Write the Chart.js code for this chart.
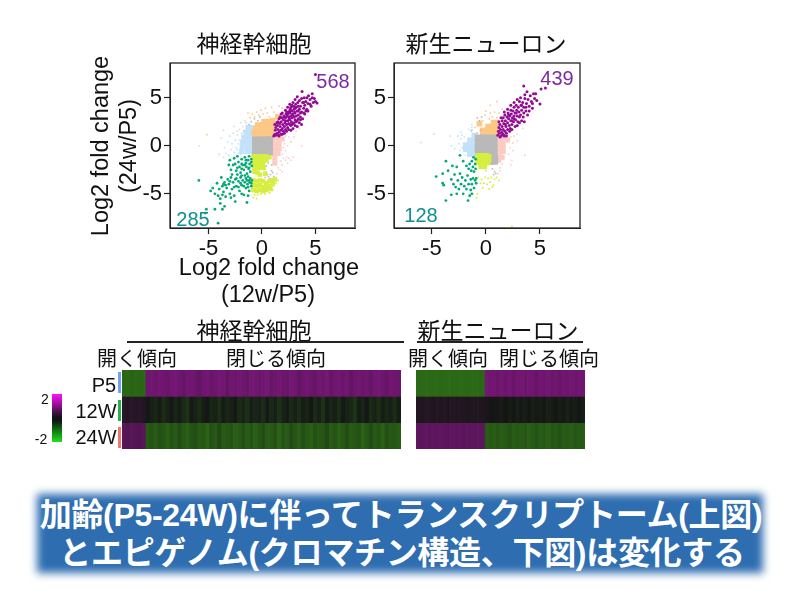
<!DOCTYPE html>
<html lang="ja">
<head>
<meta charset="utf-8">
<title>加齢に伴う変化</title>
<script src="https://cdn.jsdelivr.net/npm/chart.js@4"></script>
<style>
  html, body { margin: 0; padding: 0; background: #fff; }
  #page { position: relative; width: 800px; height: 614px; overflow: hidden; font-family: "Noto Sans CJK JP", sans-serif; color: #111; }
  #page canvas { position: absolute; }
  .lbl { position: absolute; transform: translate(-50%, -50%); white-space: nowrap; line-height: 1; }
  .latin { font-family: "Liberation Sans", Arial, sans-serif; }
  .rot { transform: translate(-50%, -50%) rotate(-90deg); }
  .rule { position: absolute; height: 1.5px; background: #222; }
  .tag { position: absolute; width: 2.5px; }
  #bannerBg { position: absolute; left: 37px; top: 494px; width: 726px; height: 79px; background: #2d6db0; filter: blur(4px); }
  .bannerTxt { color: #fff; font-family: "Liberation Sans", "Noto Sans CJK JP", sans-serif; font-weight: 700; font-size: 32px; letter-spacing: -0.3px; }
  #colorbar { position: absolute; left: 52px; top: 394px; width: 10px; height: 48px;
    background: linear-gradient(#ff10ff, #a010a0 20%, #141414 48%, #141414 56%, #108a10 80%, #20e020); }
</style>
</head>
<body>
<div id="page">
  <canvas id="scatterNsc"></canvas>
  <canvas id="scatterNeuron"></canvas>
  <canvas id="heatNsc"></canvas>
  <canvas id="heatNeuron"></canvas>

  <div class="lbl" style="left:254px;top:42px;font-size:23px">神経幹細胞</div>
  <div class="lbl" style="left:486px;top:42px;font-size:23px">新生ニューロン</div>

  <div class="lbl latin rot" style="left:101px;top:146px;font-size:23.5px">Log2 fold change</div>
  <div class="lbl latin rot" style="left:129px;top:146px;font-size:23.5px">(24w/P5)</div>
  <div class="lbl latin" style="left:269px;top:268px;font-size:23.5px">Log2 fold change</div>
  <div class="lbl latin" style="left:268px;top:295px;font-size:23.5px">(12w/P5)</div>

  <div class="lbl latin" style="left:333px;top:81px;font-size:20px;color:#7d2a9e">568</div>
  <div class="lbl latin" style="left:193px;top:219px;font-size:20px;color:#0f8f8f">285</div>
  <div class="lbl latin" style="left:557px;top:78px;font-size:20px;color:#7d2a9e">439</div>
  <div class="lbl latin" style="left:421px;top:215px;font-size:20px;color:#0f8f8f">128</div>

  <div class="lbl" style="left:254px;top:329px;font-size:23px">神経幹細胞</div>
  <div class="rule" style="left:127px;top:341px;width:277px"></div>
  <div class="lbl" style="left:498px;top:329px;font-size:23px">新生ニューロン</div>
  <div class="rule" style="left:417px;top:341px;width:166px"></div>

  <div class="lbl" style="left:137px;top:358px;font-size:20px">開く傾向</div>
  <div class="lbl" style="left:276px;top:358px;font-size:20px">閉じる傾向</div>
  <div class="lbl" style="left:448px;top:358px;font-size:20px">開く傾向</div>
  <div class="lbl" style="left:549px;top:358px;font-size:20px">閉じる傾向</div>

  <div class="lbl latin" style="left:104px;top:385px;font-size:20px">P5</div>
  <div class="lbl latin" style="left:96px;top:411px;font-size:20px">12W</div>
  <div class="lbl latin" style="left:96px;top:437px;font-size:20px">24W</div>
  <div class="tag" style="left:118px;top:372px;height:21px;background:#6fa2f5"></div>
  <div class="tag" style="left:118px;top:400px;height:21px;background:#22b14c"></div>
  <div class="tag" style="left:118px;top:427px;height:21px;background:#f0766a"></div>

  <div id="colorbar"></div>
  <div class="lbl latin" style="left:45px;top:399px;font-size:14px">2</div>
  <div class="lbl latin" style="left:41px;top:439px;font-size:14px">-2</div>

  <div id="bannerBg"></div>
  <div class="lbl bannerTxt" style="left:401px;top:515px">加齢(P5-24W)に伴ってトランスクリプトーム(上図)</div>
  <div class="lbl bannerTxt" style="left:402px;top:553px">とエピゲノム(クロマチン構造、下図)は変化する</div>
</div>

<script>
// axis ticks
const tickValues = [-5, 0, 5];

// 神経幹細胞 scatter as [x, y]
const nscPurple = [[1.2,1.2],[1.25,1.6],[1.3,1.9],[1.4,1.3],[1.45,2.1],[1.5,1.7],[1.55,1.1],[1.6,1.4],[1.65,2.3],[1.7,2.0],[1.75,1.6],[1.8,1.2],[1.8,2.5],[1.85,2.9],[1.9,1.8],[1.95,2.2],[2.0,1.5],[2.0,2.7],[2.05,3.1],[2.1,2.0],[2.15,2.4],[2.2,1.7],[2.2,2.9],[2.25,3.3],[2.3,2.2],[2.35,3.1],[2.4,2.6],[2.4,1.9],[2.45,3.5],[2.5,3.0],[2.5,2.3],[2.55,2.8],[2.6,3.4],[2.6,2.7],[2.65,3.8],[2.7,2.1],[2.7,3.1],[2.75,2.5],[2.8,3.6],[2.8,2.9],[2.85,3.3],[2.9,3.2],[2.9,2.3],[2.95,4.1],[3.0,3.8],[3.0,3.0],[3.05,3.5],[3.1,2.7],[3.1,3.4],[3.15,4.3],[3.2,4.0],[3.2,3.1],[3.3,2.6],[3.3,3.6],[3.3,5.1],[3.35,4.5],[3.4,3.2],[3.5,3.8],[3.5,4.7],[3.6,3.0],[3.6,4.1],[3.7,3.5],[3.75,5.65],[3.8,4.5],[3.8,2.8],[3.9,3.9],[3.95,5.0],[4.0,4.2],[4.0,3.3],[4.1,4.6],[4.2,3.8],[4.3,4.4],[4.35,5.2],[4.5,4.8],[4.6,4.1],[4.7,5.4],[4.7,5.0],[4.8,4.5],[4.9,4.9],[5.0,4.6],[5.15,4.45],[5.0,7.4],
  [1.1,1.0],[1.3,1.1],[1.6,1.0],[1.9,1.2],[2.1,1.3],[2.3,1.5],[2.5,1.7],[2.7,1.6],[2.9,1.8],[3.1,2.1],[3.3,2.0],[3.5,2.4],[3.7,2.2],[1.5,2.5],[1.7,3.0],[1.9,3.4],[2.2,3.7],[2.4,4.0],[2.6,4.3],[2.9,4.5],[3.1,4.8],[2.7,4.0],[3.4,4.1],[2.2,2.6],[2.4,3.3],[2.6,2.2],[2.8,2.2],[3.0,2.4],[3.2,2.5],[3.4,2.8],[3.6,2.7],[1.6,2.8],[1.4,2.4],[1.2,2.2],[1.8,3.3],[2.1,3.0],[2.3,3.5],[2.6,3.6],[2.8,4.2],[3.1,3.9],[3.4,3.6],[3.6,3.4],[3.9,3.4],[4.1,3.6],[4.3,3.6],[4.5,4.3],[4.2,5.0],[3.9,4.5],[3.7,4.9]];
const nscGreen = [[-3.1,-2.0],[-3.0,-1.5],[-2.9,-2.5],[-2.6,-1.3],[-2.5,-1.9],[-2.4,-2.6],[-2.3,-1.1],[-2.2,-1.7],[-2.1,-2.2],[-2.0,-2.8],[-1.9,-1.4],[-1.8,-2.0],[-1.7,-2.5],[-1.6,-1.2],[-1.5,-1.8],[-1.45,-2.2],[-1.4,-2.9],[-1.3,-1.5],[-1.25,-2.4],[-1.2,-1.1],[-1.15,-1.9],[-1.1,-2.7],[-1.0,-1.4],[-0.95,-2.1],[-1.0,-1.7],[-1.5,-1.5],[-1.9,-1.9],[-5.9,-3.6],[-4.8,-4.7],[-4.6,-4.4],[-4.4,-5.0],[-4.2,-3.9],[-4.1,-5.2],[-4.0,-4.5],[-3.9,-5.5],[-3.8,-3.3],[-3.7,-4.2],[-3.7,-5.1],[-3.6,-4.8],[-3.5,-3.8],[-3.4,-5.3],[-3.3,-4.4],[-3.2,-3.5],[-3.1,-4.0],[-3.0,-5.0],[-2.9,-3.3],[-2.8,-4.5],[-2.7,-3.8],[-2.6,-5.2],[-2.5,-3.5],[-2.4,-4.2],[-2.3,-3.0],[-2.2,-3.7],[-2.1,-4.7],[-2.0,-3.3],[-1.9,-4.1],[-1.8,-3.6],[-1.7,-5.1],[-1.6,-3.1],[-1.5,-4.4],[-1.4,-3.6],[-1.35,-4.0],[-1.3,-3.2],[-1.2,-4.7],[-1.15,-3.8],[-1.1,-3.4],[-1.0,-4.2],[-0.95,-3.6],[-1.0,-3.9],[-4.1,-8.05],[-5.2,-6.6],[-5.3,-7.0],[-3.5,-6.3],[-3.7,-6.6],[-3.9,-6.0],[-2.5,-5.8],[-1.4,-5.9],[-4.4,-6.6],
  [-2.7,-2.0],[-2.3,-2.3],[-1.9,-2.4],[-1.6,-2.0],[-1.2,-2.3],[-2.8,-3.0],[-2.4,-3.4],[-2.0,-3.9],[-1.7,-4.2],[-1.5,-3.4],[-1.2,-3.6],[-1.3,-4.3],[-1.9,-3.1],[-1.6,-3.8],[-2.6,-4.3],[-3.0,-3.7],[-3.4,-4.1],[-2.2,-4.3],[-3.6,-4.0],[-2.9,-5.4],[-1.9,-5.0],[-1.3,-5.2]];
const nscLime = [[-0.8,-1.1],[-0.5,-1.1],[-0.2,-1.1],[0.1,-1.1],[0.4,-1.1],[0.7,-1.2],[-0.8,-1.5],[-0.5,-1.5],[-0.2,-1.5],[0.1,-1.5],[0.4,-1.5],[-0.8,-1.9],[-0.5,-1.9],[-0.2,-1.9],[0.1,-1.9],[-0.7,-2.3],[-0.4,-2.3],[-0.1,-2.3],[0.15,-2.3],[-0.7,-2.7],[-0.4,-2.8],[-0.2,-3.0],[0.3,-2.9],[-0.8,-3.6],[-0.5,-3.7],[-0.2,-3.6],[0.1,-3.7],[0.4,-3.9],[0.7,-3.7],[1.0,-3.6],[1.2,-3.5],[-0.8,-4.1],[-0.5,-4.2],[-0.2,-4.1],[0.1,-4.3],[0.4,-4.2],[0.7,-4.2],[1.0,-4.0],[-0.8,-4.6],[-0.5,-4.7],[-0.2,-4.6],[0.1,-4.7],[0.4,-4.6],[0.8,-4.5],[-0.7,-5.1],[-0.4,-5.1],[-0.1,-5.0],[-0.8,-5.4],[0.3,-5.0],[1.3,-3.9],[1.0,-4.6],[0.7,-4.9],[1.5,-3.6],[-0.5,-5.5]];
const nscGrey = [[-0.6,0.6],[-0.1,0.6],[0.4,0.6],[0.7,0.6],[-0.6,0.1],[-0.1,0.1],[0.4,0.1],[0.7,0.1],[-0.6,-0.4],[-0.1,-0.4],[0.4,-0.4],[0.7,-0.4],[-0.6,-0.65],[-0.1,-0.65],[0.4,-0.65],[0.7,-0.65],[-1.0,2.5],[-0.7,2.8],[-0.4,2.6],[-1.2,2.2],[-0.2,3.0],[0.2,-1.9],[0.4,-2.1],[0.6,-1.8],[0.9,-2.0],[0.3,-3.3],[0.6,-3.2],[0.8,-3.0],[1.0,-2.8],[1.1,-3.2],[0.9,-2.6],[0.7,-3.4],[0.5,-3.0]];
const nscOrange = [[-0.7,1.1],[-0.3,1.1],[0.1,1.1],[0.5,1.1],[0.8,1.1],[-0.7,1.45],[-0.3,1.45],[0.1,1.45],[0.5,1.45],[0.9,1.5],[-0.55,1.8],[-0.2,1.8],[0.2,1.8],[0.6,1.8],[1.0,1.9],[-0.4,2.15],[0,2.15],[0.4,2.15],[0.8,2.2],[1.2,2.3],[0.2,2.5],[0.6,2.5],[1.0,2.6],[1.5,3.0],[-1.3,3.4],[-1.1,2.9],[-0.9,3.3],[-0.7,3.0],[-0.5,3.5],[-0.3,3.2],[-0.1,3.7],[0.1,3.3],[0.3,3.9],[0.5,3.4],[0.7,3.0],[0.9,4.0],[1.1,3.5],[1.3,3.1],[1.6,4.1],[1.9,3.9],[-1.5,2.4],[-1.7,1.5],[-2.3,1.5],[-5.15,1.15]];
const nscBlue = [[-1.3,1.9],[-1.0,1.9],[-1.5,1.4],[-1.1,1.4],[-1.7,0.9],[-1.35,0.9],[-1.0,0.9],[-1.8,0.4],[-1.4,0.4],[-1.0,0.4],[-1.85,-0.1],[-1.4,-0.1],[-1.0,-0.1],[-1.9,-0.6],[-1.4,-0.6],[-1.0,-0.6],[-5.85,0],[-4.0,-0.9],[-3.8,0.8],[-3.6,1.6],[-3.5,-0.2],[-3.4,-0.8],[-3.2,0.4],[-3.1,-1.0],[-3.0,1.0],[-2.9,-0.4],[-2.8,0.2],[-2.7,1.3],[-2.6,-0.7],[-2.5,0.6],[-2.4,-0.2],[-2.3,1.1],[-2.2,0.2],[-2.2,-0.8],[-2.1,1.7],[-3.6,-1.2],[-2.6,2.0],[-2.0,2.4],[-1.6,2.6],[-1.9,1.3],[-2.1,0.6],[-2.3,-0.4],[-1.8,2.0],[-2.0,-0.9]];
const nscPink = [[1.2,0.7],[1.6,0.7],[1.9,0.7],[1.2,0.2],[1.6,0.2],[1.2,-0.3],[1.6,-0.3],[1.2,-0.8],[1.5,-0.8],[1.2,-1.3],[1.2,-1.8],[2.2,1.0],[2.5,0.9],[2.7,0.4],[2.1,0.2],[2.4,0.0],[2.2,-0.5],[3.7,0.0],[3.0,0.9],[2.0,-1.3],[2.3,-1.2],[2.5,-1.3],[2.7,-1.5],[2.9,-1.2],[2.4,-1.8],[2.2,-1.5],[1.9,-2.0],[1.7,-2.5],[1.9,-2.7],[1.5,-2.3],[1.4,-2.9],[3.2,1.5],[3.5,1.8],[2.9,1.7],[1.9,-0.9],[2.0,-0.2],[1.8,-1.6]];

// 新生ニューロン scatter
const neuPurple = [[1.1,1.1],[1.15,1.5],[1.2,1.9],[1.25,1.3],[1.3,2.2],[1.35,1.7],[1.4,1.0],[1.45,1.4],[1.5,2.6],[1.5,2.0],[1.55,1.2],[1.6,2.9],[1.6,1.7],[1.65,2.3],[1.7,1.0],[1.75,1.5],[1.75,3.2],[1.8,2.6],[1.85,2.0],[1.9,1.3],[1.95,3.0],[2.0,2.4],[2.0,1.7],[2.05,3.4],[2.1,2.8],[2.15,2.1],[2.2,3.1],[2.25,1.8],[2.3,3.7],[2.3,2.6],[2.35,3.3],[2.4,2.2],[2.45,2.9],[2.5,3.6],[2.55,2.5],[2.6,4.0],[2.6,3.1],[2.7,3.4],[2.75,2.7],[2.8,4.2],[2.85,3.7],[2.9,3.1],[2.95,2.5],[3.0,4.0],[3.05,3.5],[3.1,4.6],[3.2,3.2],[3.25,4.2],[3.3,3.7],[3.4,4.5],[3.45,3.0],[3.5,4.0],[3.55,2.5],[3.6,4.9],[3.7,3.6],[3.75,4.4],[3.8,5.6],[3.85,3.2],[3.9,4.8],[4.0,4.1],[4.1,5.2],[4.2,4.6],[4.3,3.9],[4.4,5.4],[4.5,4.9],[4.6,5.4],[3.5,6.2],[5.1,5.9],[5.0,4.35],[5.5,6.0],
  [1.3,0.9],[1.6,1.2],[1.9,1.0],[2.2,1.5],[2.4,1.7],[2.7,2.0],[2.9,2.1],[3.1,2.4],[3.3,2.6],[1.2,2.5],[1.4,2.9],[1.7,3.5],[2.0,3.8],[2.3,4.2],[2.6,4.5],[2.9,4.8],[3.2,5.0],[1.8,2.2],[2.1,3.2],[2.4,2.6],[2.6,2.8],[2.8,3.4],[3.1,3.0],[3.3,4.2],[3.5,3.4],[3.7,4.0],[4.0,3.6],[4.3,4.4],[4.7,4.7],[3.6,5.3]];
const neuGreen = [[-4.6,-3.2],[-4.0,-2.9],[-4.0,-3.9],[-3.9,-4.1],[-3.7,-5.7],[-3.7,-1.6],[-3.5,-2.6],[-3.2,-5.1],[-3.2,-3.5],[-3.1,-2.1],[-3.0,-4.0],[-2.9,-3.0],[-2.8,-4.3],[-2.7,-2.2],[-2.6,-3.6],[-2.5,-4.5],[-2.4,-1.0],[-2.4,-2.9],[-2.3,-4.0],[-2.2,-3.3],[-2.1,-1.6],[-2.1,-5.0],[-2.0,-4.2],[-1.9,-3.6],[-1.8,-2.1],[-1.8,-4.5],[-1.7,-3.1],[-1.65,-5.7],[-1.6,-4.0],[-1.6,-2.4],[-1.5,-5.2],[-1.5,-1.9],[-1.4,-3.5],[-1.4,-4.6],[-1.35,-2.6],[-1.3,-1.6],[-1.3,-4.0],[-1.2,-2.2],[-1.2,-3.4],[-1.15,-1.2],[-1.1,-4.4],[-1.1,-2.7],[-1.0,-1.9],[-1.0,-3.6],[-0.95,-1.4],[-0.95,-2.4],[-0.9,-3.9],[-0.9,-3.4],[-1.3,-5.0],[-2.7,-5.0]];
const neuLime = [[-0.8,-1.0],[-0.5,-1.0],[-0.2,-1.0],[0.1,-1.0],[0.3,-1.1],[-0.8,-1.4],[-0.5,-1.4],[-0.2,-1.4],[0.1,-1.4],[0.3,-1.5],[-0.7,-1.8],[-0.4,-1.8],[-0.1,-1.8],[0.2,-1.8],[-0.5,-2.2],[-0.1,-2.2],[-0.7,-3.3],[-0.4,-3.5],[-0.1,-3.3],[0.2,-3.4],[0.5,-3.3],[0.8,-3.5],[1.0,-3.3],[-0.5,-3.9],[-0.2,-3.9],[0.1,-4.0],[0.4,-3.8],[0.7,-4.1],[1.2,-3.6],[-0.3,-4.4],[0.3,-4.5],[0.6,-4.3],[-0.8,-5.0],[-0.85,-5.4],[0.0,-2.6],[2.4,-8.4]];
const neuGrey = [[-0.7,0.8],[-0.2,0.8],[0.3,0.8],[0.75,0.8],[-0.7,0.3],[-0.2,0.3],[0.3,0.3],[0.75,0.3],[-0.7,-0.2],[-0.2,-0.2],[0.3,-0.2],[0.75,-0.2],[-0.7,-0.7],[-0.2,-0.7],[0.3,-0.7],[0.75,-0.7],[0.1,-1.3],[0.5,-1.3],[0.8,-1.3],[0.5,-1.6],[0.8,-1.6],[-0.8,1.3],[-0.5,1.6],[-0.8,2.9],[-0.6,2.6],[-0.4,3.0],[0.6,-2.4],[0.8,-2.7],[0.9,-2.9],[0.7,-3.0],[-1.3,1.6]];
const neuOrange = [[-0.3,1.2],[0.1,1.2],[0.5,1.2],[0.9,1.2],[-0.3,1.6],[0.1,1.6],[0.5,1.6],[0.9,1.6],[0.2,2.0],[0.6,2.0],[1.0,2.0],[0.7,2.4],[1.0,2.4],[-0.6,2.3],[-0.3,2.6],[-0.1,3.2],[0.0,3.6],[0.3,2.8],[0.4,3.4],[0.6,3.0],[0.8,3.5],[1.0,2.9],[1.2,3.4],[1.5,3.8],[1.0,4.6],[0.4,4.2],[-4.8,1.2],[-1.0,1.9]];
const neuBlue = [[-1.1,1.1],[-1.1,0.6],[-1.5,0.6],[-1.1,0.1],[-1.5,0.1],[-1.9,0.1],[-1.1,-0.4],[-1.5,-0.4],[-1.9,-0.4],[-1.1,-0.9],[-1.5,-0.9],[-6.0,0.35],[-3.2,0.0],[-2.9,-0.3],[-2.2,1.1],[-2.5,0.2],[-2.4,-0.5],[-2.2,-0.2],[-2.6,1.0],[-2.3,0.7],[-2.0,0.9],[-1.4,1.5],[-1.3,1.9],[-1.6,1.7],[-1.3,2.2],[-2.3,1.4],[-3.3,1.0],[-1.9,-1.0]];
const neuPink = [[1.2,0.9],[1.6,0.9],[1.2,0.4],[1.6,0.4],[2.0,0.6],[1.2,-0.1],[1.6,-0.1],[1.2,-0.6],[1.6,-0.6],[1.2,-1.1],[1.5,-1.2],[1.2,-1.5],[2.3,0.9],[2.5,0.3],[2.6,1.0],[2.9,1.2],[2.2,-0.2],[2.5,-0.5],[2.1,-0.9],[3.6,-1.0],[2.4,-1.5],[2.3,-2.0],[1.3,-2.3],[1.3,-2.6],[1.1,-2.9],[1.5,-1.9],[3.4,1.8],[2.9,0.5]];

// heatmap values, one entry per column
const nscP5 = [-0.75,-0.78,-0.72,-0.76,-0.74,-0.77, 0.82,0.86,0.8,0.88,0.84,0.78,0.86,0.9,0.82,0.76,0.85,0.87,0.8,0.7,0.84,0.88,0.78,0.83,0.9,0.86,0.72,0.84,0.8,0.87,0.82,0.76,0.88,0.85,0.79,0.84,0.9,0.73,0.82,0.86,0.8,0.77,0.88,0.84,0.7,0.83,0.87,0.8,0.76,0.86,0.82,0.9,0.74,0.84,0.88,0.8,0.85,0.72,0.83,0.87,0.79,0.86,0.74,0.85,0.9,0.82,0.76,0.86,0.83,0.8];
const nsc12 = [0.2,0.12,0.22,0.16,0.2,0.14, -0.02,-0.1,-0.18,-0.06,-0.22,-0.12,-0.04,-0.16,-0.08,-0.2,-0.28,-0.05,-0.14,-0.22,-0.08,-0.02,-0.18,-0.12,-0.25,-0.06,-0.16,-0.1,-0.03,-0.2,-0.13,-0.24,-0.07,-0.15,-0.1,-0.21,-0.04,-0.17,-0.09,-0.26,-0.12,-0.05,-0.19,-0.1,-0.23,-0.07,-0.14,-0.02,-0.2,-0.11,-0.27,-0.06,-0.16,-0.09,-0.22,-0.04,-0.13,-0.18,-0.3,-0.08,-0.15,-0.03,-0.2,-0.12,-0.25,-0.07,-0.17,-0.1,-0.22,-0.06];
const nsc24 = [0.62,0.58,0.64,0.6,0.56,0.62, -0.62,-0.58,-0.66,-0.54,-0.6,-0.7,-0.56,-0.64,-0.5,-0.62,-0.68,-0.58,-0.52,-0.65,-0.6,-0.72,-0.55,-0.62,-0.48,-0.66,-0.6,-0.56,-0.7,-0.62,-0.52,-0.64,-0.58,-0.68,-0.6,-0.5,-0.66,-0.62,-0.56,-0.72,-0.58,-0.64,-0.5,-0.6,-0.68,-0.54,-0.62,-0.7,-0.56,-0.64,-0.6,-0.48,-0.66,-0.58,-0.7,-0.62,-0.52,-0.66,-0.6,-0.56,-0.72,-0.62,-0.5,-0.64,-0.58,-0.68,-0.54,-0.62,-0.6,-0.66];
const neuP5 = [-0.78,-0.76,-0.8,-0.77,-0.78,-0.79,-0.76,-0.78,-0.8,-0.77,-0.76,-0.79,-0.78,-0.77,-0.8,-0.78,-0.76,-0.77, 0.88,0.84,0.86,0.8,0.87,0.83,0.88,0.78,0.85,0.86,0.8,0.87,0.84,0.76,0.86,0.82,0.88,0.8,0.85,0.78,0.86,0.83,0.87,0.8,0.85,0.84];
const neu12 = [0.14,0.1,0.16,0.12,0.08,0.15,0.11,0.16,0.09,0.13,0.1,0.15,0.12,0.08,0.14,0.11,0.12,0.1, 0.06,0.03,-0.02,0.05,-0.05,0,-0.08,-0.03,-0.1,-0.04,-0.07,0,-0.11,-0.05,-0.08,-0.02,-0.1,-0.06,-0.03,-0.09,-0.05,-0.12,-0.04,-0.07,-0.02,-0.08];
const neu24 = [0.68,0.66,0.7,0.64,0.68,0.66,0.7,0.67,0.64,0.69,0.66,0.7,0.65,0.68,0.66,0.64,0.68,0.66, -0.66,-0.62,-0.68,-0.6,-0.66,-0.64,-0.58,-0.68,-0.62,-0.66,-0.6,-0.7,-0.64,-0.58,-0.66,-0.62,-0.68,-0.6,-0.64,-0.56,-0.66,-0.62,-0.68,-0.6,-0.64,-0.66];

const heatRows = ["P5", "12W", "24W"];

const colPurple = "#930a93", colGreen = "#07a877", colLime = "#d6ee40", colGrey = "#b9b9b9",
      colOrange = "#fdc785", colBlue = "#c2e1fb", colPink = "#fcccc4";

// frame round the plot area, R style box
const frame = {
  id: "frame",
  afterDraw(chart) {
    const a = chart.chartArea, ctx = chart.ctx;
    ctx.save();
    ctx.strokeStyle = "#222";
    ctx.lineWidth = 1.3;
    ctx.strokeRect(a.left, a.top, a.right - a.left, a.bottom - a.top);
    ctx.restore();
  }
};

function pts(list) {
  return list.map(p => ({ x: p[0], y: p[1] }));
}

function dots(list, color, radius, style) {
  return { data: pts(list), backgroundColor: color, borderWidth: 0, pointRadius: radius, pointStyle: style || "circle" };
}

// block series have their first points fat and square so the dense middle closes up
function blockRadius(list, blockCount, big, small) {
  return list.map((p, i) => i < blockCount ? big : small);
}

function tickAxis(min, max, fixed, fit) {
  return {
    type: "linear", min: min, max: max,
    afterBuildTicks: s => { s.ticks = tickValues.map(v => ({ value: v })); },
    afterFit: s => { s[fit] = fixed; },
    grid: { drawOnChartArea: false, color: "#222", tickLength: 6, tickWidth: 1.2 },
    border: { color: "#222" },
    ticks: {
      color: "#111", font: { family: "Liberation Sans", size: 22 }, padding: 2,
      maxRotation: 0, autoSkip: false
    }
  };
}

function scatter(id, box, yWidth, xr, yr, sets) {
  const el = document.getElementById(id);
  el.style.left = box.left + "px";
  el.style.top = box.top + "px";
  el.width = box.w;
  el.height = box.h;
  el.style.width = box.w + "px";
  el.style.height = box.h + "px";
  new Chart(el, {
    type: "scatter",
    data: { datasets: sets },
    options: {
      responsive: false, animation: false,
      layout: { padding: { top: box.padTop, right: box.padRight } },
      plugins: { legend: { display: false }, tooltip: { enabled: false } },
      scales: {
        x: tickAxis(xr[0], xr[1], box.xHeight, "height"),
        y: tickAxis(yr[0], yr[1], yWidth, "width")
      }
    },
    plugins: [frame]
  });
}

function scatterSets(purple, green, lime, grey, orange, blue, pink, limeN, greyN, orangeN, blueN, pinkN) {
  const lim = dots(lime, colLime, 1.3);
  lim.pointRadius = blockRadius(lime, limeN, 3.2, 1.2);
  lim.pointStyle = "rect";
  const gre = dots(grey, colGrey, 1.1);
  gre.pointRadius = blockRadius(grey, greyN, 5, 1.1);
  gre.pointStyle = "rect";
  const ora = dots(orange, colOrange, 1.1);
  ora.pointRadius = blockRadius(orange, orangeN, 4, 1.1);
  ora.pointStyle = "rect";
  const blu = dots(blue, colBlue, 1.1);
  blu.pointRadius = blockRadius(blue, blueN, 3.6, 1.1);
  blu.pointStyle = "rect";
  const pin = dots(pink, colPink, 1.1);
  pin.pointRadius = blockRadius(pink, pinkN, 3.6, 1.1);
  pin.pointStyle = "rect";
  // first dataset ends up on top
  return [dots(purple, colPurple, 1.5), dots(green, colGreen, 1.4), lim, gre, ora, blu, pin];
}

scatter("scatterNsc",
  { left: 60, top: 20, w: 300, h: 290, padTop: 43, padRight: 5, xHeight: 82 }, 110,
  [-8.6, 8.7], [-8.55, 8.6],
  scatterSets(nscPurple, nscGreen, nscLime, nscGrey, nscOrange, nscBlue, nscPink, 44, 16, 24, 16, 11));

scatter("scatterNeuron",
  { left: 360, top: 20, w: 225, h: 290, padTop: 43, padRight: 5, xHeight: 82 }, 34,
  [-8.5, 8.7], [-8.55, 8.6],
  scatterSets(neuPurple, neuGreen, neuLime, neuGrey, neuOrange, neuBlue, neuPink, 16, 21, 14, 11, 12));

// magenta - black - green
function heatColor(v) {
  const t = Math.min(Math.abs(v) / 2, 1);
  if (v >= 0) {
    const c = Math.round(20 + 218 * t);
    return "rgb(" + c + ",22," + c + ")";
  }
  return "rgb(" + Math.round(20 + 60 * t) + "," + Math.round(20 + 218 * t) + ",22)";
}

function heatmap(id, left, top, w, h, rows) {
  const el = document.getElementById(id);
  el.style.left = left + "px";
  el.style.top = top + "px";
  el.width = w;
  el.height = h;
  el.style.width = w + "px";
  el.style.height = h + "px";
  new Chart(el, {
    type: "bar",
    data: {
      labels: rows[0].map((v, i) => i),
      datasets: rows.map((vals, r) => ({
        label: heatRows[r],
        data: vals.map(() => 1),
        backgroundColor: vals.map(heatColor),
        barPercentage: 1, categoryPercentage: 1, borderWidth: 0
      }))
    },
    options: {
      responsive: false, animation: false,
      plugins: { legend: { display: false }, tooltip: { enabled: false } },
      scales: {
        x: { stacked: true, display: false, offset: true },
        y: { stacked: true, display: false, min: 0, max: 3, reverse: true }
      }
    }
  });
}

heatmap("heatNsc", 122, 370, 279, 79, [nscP5, nsc12, nsc24]);
heatmap("heatNeuron", 416, 370, 169, 79, [neuP5, neu12, neu24]);
</script>
</body>
</html>
